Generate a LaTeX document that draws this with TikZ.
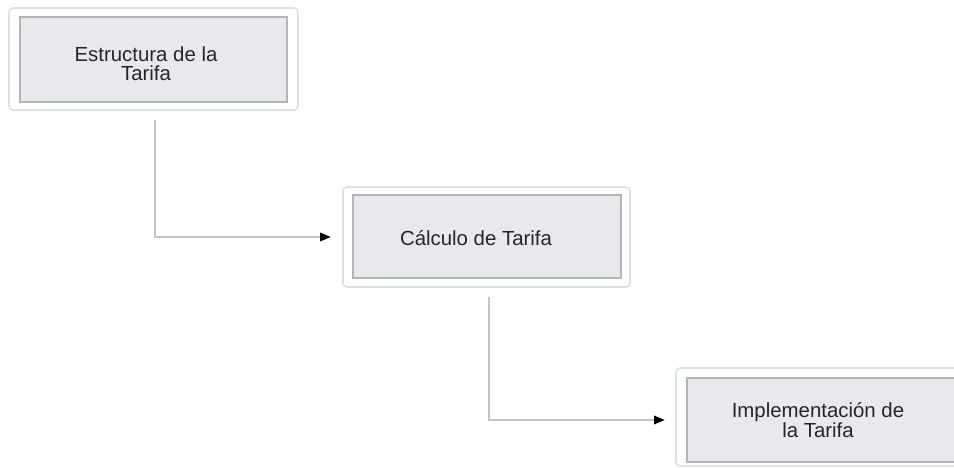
\documentclass[tikz,border=0pt]{standalone}
\usepackage{fontspec}
\setmainfont{Liberation Sans}
\usetikzlibrary{arrows.meta}
\definecolor{outerc}{HTML}{D6E4E0}
\definecolor{innerc}{HTML}{B4B4B4}
\definecolor{innerfill}{HTML}{E8E9ED}
\definecolor{linec}{HTML}{C4C4C4}
\begin{document}
\begin{tikzpicture}[x=0.75pt,y=-0.75pt,
  outerbox/.style={draw=outerc,line width=1.2pt,fill=white,rounded corners=3pt},
  innerbox/.style={draw=innerc,line width=0.9pt,fill=innerfill},
  lbl/.style={align=center,font=\fontsize{15.3}{14.2}\selectfont,text=black!85,inner sep=0pt},
  conn/.style={draw=linec,line width=1pt,-{Triangle[length=8pt,width=6.5pt,color=black]}}]
\useasboundingbox (0,0) rectangle (954,468);
% box 1
\draw[outerbox] (9,8) rectangle (298,110);
\draw[innerbox] (20,17) rectangle (287,102);
\coordinate (b1) at (153.5,59);
\node[lbl] (t1) at (146,63.5) {Estructura de la\\Tarifa};
% box 2
\draw[outerbox] (343,187) rectangle (630,287);
\draw[innerbox] (353,195) rectangle (621,278);
\node[inner sep=0pt,minimum width=287*0.75pt,minimum height=100*0.75pt] (b2) at (486.5,237) {};
\node[lbl] (t2) at (476,238) {Cálculo de Tarifa};
% box 3
\draw[outerbox] (676,368) rectangle (970,466);
\draw[innerbox] (687,378) rectangle (955,462);
\node[inner sep=0pt,minimum width=294*0.75pt,minimum height=98*0.75pt] (b3) at (823,420) {};
\node[lbl] (t3) at (818,420) {Implementación de\\la Tarifa};
% connectors
\coordinate (s1) at (155,120);
\coordinate (s2) at (489,297);
\draw[conn] (s1) |- ([xshift=-12*0.75pt]b2.west);
\draw[conn] (s2) |- ([xshift=-11*0.75pt]b3.west);
\end{tikzpicture}
\end{document}
